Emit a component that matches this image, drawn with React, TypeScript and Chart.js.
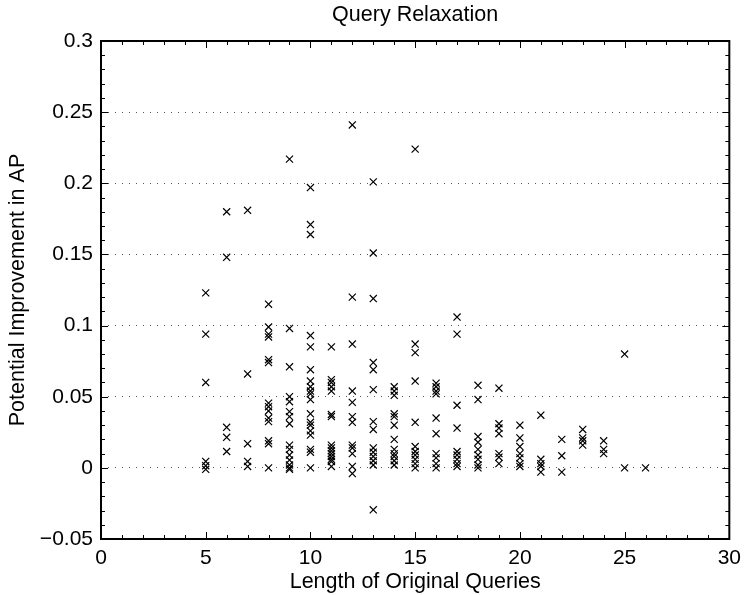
import React, { useEffect, useRef } from "react";
import { Chart, registerables } from "chart.js";

Chart.register(...registerables);

// Query length (x) and potential improvement in AP (y) values for each length
const queryLengths = [5, 6, 7, 8, 9, 10, 11, 12, 13, 14, 15, 16, 17, 18, 19, 20, 21, 22, 23, 24, 25, 26];
const improvementsByLength = [
  [0.123, 0.094, 0.06, 0.0045, 0.0015, -0.001],
  [0.18, 0.148, 0.0285, 0.0215, 0.0115],
  [0.181, 0.066, 0.017, 0.0045, 0.001],
  [0.115, 0.099, 0.094, 0.092, 0.076, 0.074, 0.0455, 0.043, 0.04, 0.035, 0.0325, 0.019, 0.017, 0.0],
  [0.217, 0.098, 0.071, 0.05, 0.0465, 0.0395, 0.036, 0.031, 0.016, 0.013, 0.009, 0.0055, 0.002, 0.0, -0.001],
  [0.197, 0.171, 0.164, 0.093, 0.085, 0.069, 0.061, 0.057, 0.054, 0.052, 0.048, 0.038, 0.032, 0.03, 0.026, 0.023, 0.013, 0.011, 0.0],
  [0.085, 0.062, 0.06, 0.057, 0.054, 0.0375, 0.036, 0.016, 0.014, 0.012, 0.01, 0.008, 0.006, 0.0045, 0.001],
  [0.241, 0.12, 0.087, 0.054, 0.046, 0.036, 0.032, 0.016, 0.014, 0.01, 0.001, -0.004],
  [0.201, 0.151, 0.119, 0.074, 0.069, 0.055, 0.0325, 0.027, 0.014, 0.011, 0.008, 0.005, 0.002, -0.0295],
  [0.057, 0.054, 0.051, 0.038, 0.036, 0.03, 0.02, 0.013, 0.01, 0.008, 0.005, 0.002],
  [0.224, 0.087, 0.081, 0.061, 0.032, 0.015, 0.0115, 0.009, 0.006, 0.003, 0.0],
  [0.0595, 0.057, 0.054, 0.052, 0.035, 0.024, 0.01, 0.007, 0.003, 0.0],
  [0.106, 0.094, 0.044, 0.028, 0.0115, 0.009, 0.006, 0.003, 0.001],
  [0.058, 0.048, 0.022, 0.018, 0.013, 0.009, 0.006, 0.002, 0.0],
  [0.056, 0.031, 0.028, 0.024, 0.01, 0.0075, 0.003],
  [0.03, 0.021, 0.015, 0.01, 0.007, 0.003, 0.001],
  [0.037, 0.006, 0.003, 0.001, -0.003],
  [0.02, 0.0085, -0.003],
  [0.027, 0.021, 0.019, 0.016],
  [0.019, 0.013, 0.01],
  [0.08, 0.0],
  [0.0],
];

const xTickLabels = ["0", "5", "10", "15", "20", "25", "30"];
const yTickLabels = ["\u22120.05", "0", "0.05", "0.1", "0.15", "0.2", "0.25", "0.3"];

const chartTitle = "Query Relaxation";
const xAxisTitle = "Length of Original Queries";
const yAxisTitle = "Potential Improvement in AP";

const FONT = "'Liberation Sans', Arial, Helvetica, sans-serif";

const framePlugin = {
  id: "matlabFrame",
  afterDraw(chart: any) {
    const { ctx, chartArea } = chart;
    const { left, right, top, bottom } = chartArea;
    const xs = chart.scales.x;
    const ys = chart.scales.y;
    ctx.save();
    ctx.strokeStyle = "#000";
    ctx.lineWidth = 1;
    for (let i = 0; i <= 30; i++) {
      const px = Math.round(xs.getPixelForValue(i)) + 0.5;
      const len = i % 5 === 0 ? 7 : 4;
      ctx.beginPath();
      ctx.moveTo(px, bottom);
      ctx.lineTo(px, bottom - len);
      ctx.moveTo(px, top);
      ctx.lineTo(px, top + len);
      ctx.stroke();
    }
    for (let i = -5; i <= 30; i++) {
      const py = Math.round(ys.getPixelForValue(i / 100)) + 0.5;
      const len = i % 5 === 0 ? 7 : 4;
      ctx.beginPath();
      ctx.moveTo(left, py);
      ctx.lineTo(left + len, py);
      ctx.moveTo(right, py);
      ctx.lineTo(right - len, py);
      ctx.stroke();
    }
    ctx.lineWidth = 2;
    ctx.strokeRect(left, top, right - left, bottom - top);
    ctx.fillStyle = "#000";
    ctx.font = `21.5px ${FONT}`;
    ctx.textAlign = "center";
    ctx.textBaseline = "alphabetic";
    ctx.fillText(chartTitle, (left + right) / 2, 21);
    ctx.restore();
  },
};

export default function App() {
  const canvasRef = useRef<HTMLCanvasElement | null>(null);

  useEffect(() => {
    const canvas = canvasRef.current;
    if (!canvas) return;
    const points = queryLengths.flatMap((len, i) =>
      improvementsByLength[i].map((v) => ({ x: len, y: v }))
    );
    const chart = new Chart(canvas, {
      type: "scatter",
      data: {
        datasets: [
          {
            data: points,
            pointStyle: "crossRot",
            pointRadius: 5,
            pointBorderWidth: 1.2,
            borderColor: "#000",
            backgroundColor: "#000",
          },
        ],
      },
      options: {
        animation: false,
        responsive: false,
        devicePixelRatio: 1,
        layout: { padding: { top: 41, right: 14, bottom: 0, left: 0 } },
        plugins: {
          legend: { display: false },
          tooltip: { enabled: false },
          title: { display: false },
        },
        scales: {
          x: {
            type: "linear",
            min: 0,
            max: 30,
            afterFit: (s: any) => {
              s.height = 56;
            },
            ticks: {
              stepSize: 5,
              color: "#000",
              font: { family: FONT, size: 21 },
              padding: 7,
              maxRotation: 0,
              callback: (_v: any, i: number) => xTickLabels[i],
            },
            grid: { display: false, drawTicks: false },
            border: { display: false },
            title: {
              display: true,
              text: xAxisTitle,
              color: "#000",
              font: { family: FONT, size: 21.5 },
              padding: { top: 0, bottom: 0 },
            },
          },
          y: {
            type: "linear",
            min: -0.05,
            max: 0.3,
            afterFit: (s: any) => {
              s.width = 101;
            },
            ticks: {
              stepSize: 0.05,
              color: "#000",
              font: { family: FONT, size: 21 },
              padding: 8,
              callback: (_v: any, i: number) => yTickLabels[i],
            },
            grid: {
              display: true,
              drawTicks: false,
              color: "#555",
              lineWidth: 1,
            },
            border: { display: false, dash: [1, 6] },
            title: {
              display: true,
              text: yAxisTitle,
              color: "#000",
              font: { family: FONT, size: 21.5 },
              padding: { top: 5, bottom: 0 },
            },
          },
        },
      },
      plugins: [framePlugin],
    });
    return () => chart.destroy();
  }, []);

  return (
    <div style={{ position: "fixed", left: 0, top: 0, width: 748, height: 595, background: "#fff" }}>
      <canvas ref={canvasRef} width={748} height={595} style={{ width: 748, height: 595 }} />
    </div>
  );
}
